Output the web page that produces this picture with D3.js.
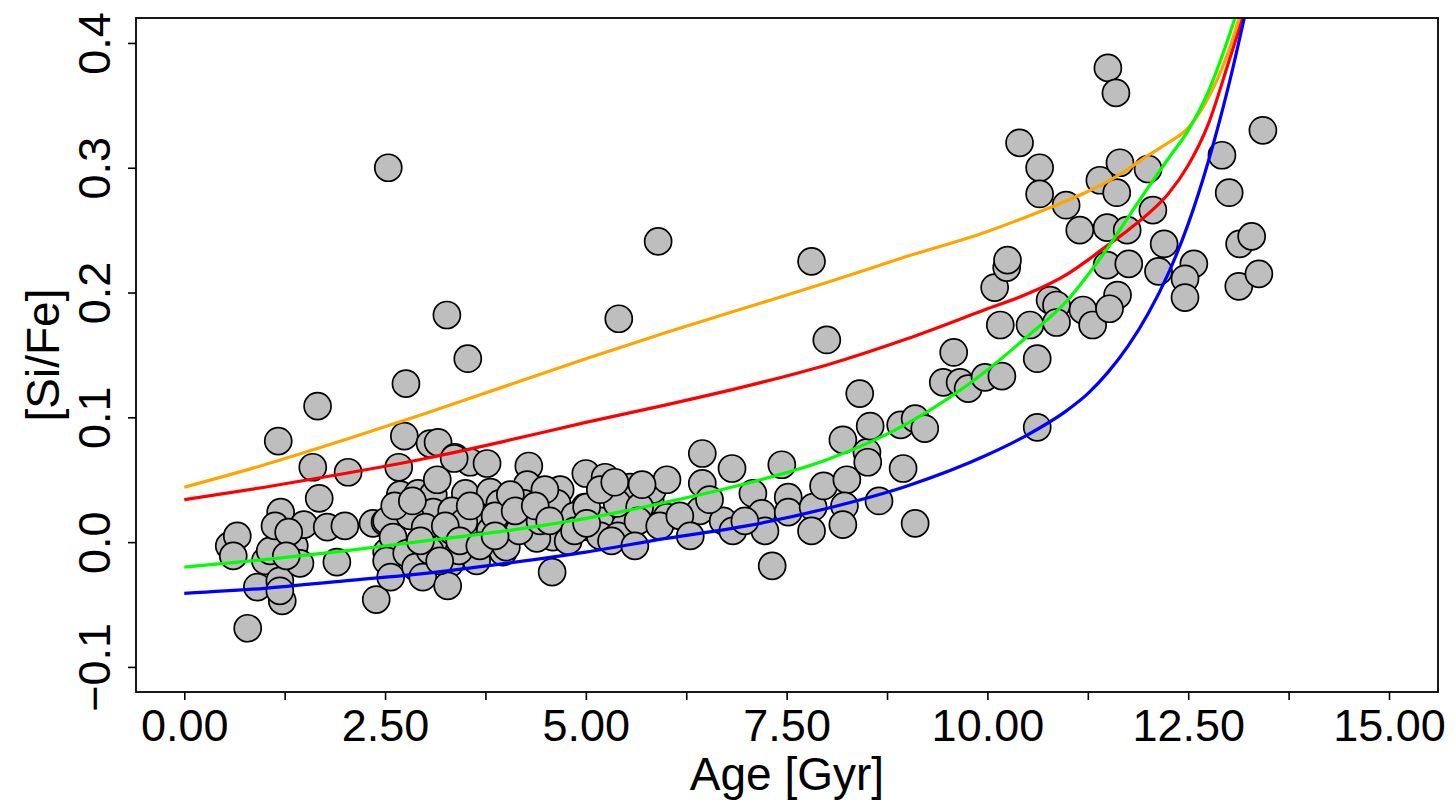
<!DOCTYPE html>
<html>
<head>
<meta charset="utf-8">
<script src="https://cdn.jsdelivr.net/npm/d3@7"></script>
<style>
  html, body { margin: 0; padding: 0; background: #fff; }
  text { font-family: "Liberation Sans", Arial, Helvetica, sans-serif; }
</style>
</head>
<body>
<div id="chart"></div>
<script>
// [age (Gyr), [Si/Fe]] for each star
const stars = [
  [0.56,-0.003],[0.66,0.005],[0.61,-0.011],[0.79,-0.069],[0.91,-0.036],[1.01,-0.015],
  [1.17,0.081],[1.20,0.024],[1.22,0.001],[1.37,-0.003],[1.19,-0.031],[1.22,-0.047],
  [1.19,-0.039],[1.44,-0.017],[1.49,0.014],[1.60,0.060],[1.66,0.109],[1.68,0.035],
  [1.78,0.012],[1.90,-0.016],[2.00,0.013],[2.04,0.056],[2.35,0.015],[2.50,0.016],
  [2.52,-0.008],[2.39,-0.046],[2.54,0.300],[2.74,0.085],[2.76,0.127],[2.67,0.060],
  [2.69,0.038],[2.52,0.017],[2.60,0.004],[2.52,-0.015],[2.77,-0.009],[1.07,-0.007],
  [1.13,0.013],[2.57,-0.028],[2.88,-0.020],[1.30,0.008],[1.27,-0.011],
  [3.06,0.079],[3.16,0.080],[3.37,0.068],[3.56,0.064],[3.77,0.063],[4.29,0.061],
  [5.00,0.055],[2.91,0.039],[3.10,0.038],[3.15,0.050],[3.50,0.039],[3.81,0.040],
  [4.27,0.046],[4.68,0.042],[3.10,0.024],[3.33,0.025],[3.71,0.019],[3.93,0.031],
  [4.27,0.029],[4.64,0.031],[4.99,0.028],[3.16,0.001],[3.33,0.009],[3.56,0.004],
  [3.81,0.009],[4.14,0.015],[4.70,0.012],[4.59,0.004],[5.05,0.012],[3.06,-0.007],
  [3.31,-0.017],[3.64,-0.015],[3.97,-0.008],[4.39,0.003],[2.97,-0.028],[3.28,-0.035],
  [4.58,-0.024],[3.42,-0.007],[3.48,0.016],[3.36,0.067],[3.53,0.147],[3.27,0.182],
  [4.01,-0.004],[4.23,0.031],[4.17,0.009],[2.81,0.021],[3.00,0.012],[3.25,0.013],
  [3.56,0.029],[3.87,0.021],[4.43,0.017],[4.86,0.021],[4.06,0.038],[4.49,0.042],
  [4.78,0.001],[2.62,0.029],[2.84,0.033],[2.94,0.001],[3.18,-0.015],[3.43,0.001],
  [3.68,-0.003],[3.87,0.005],[4.12,0.025],[4.37,0.029],[4.55,0.017],[4.86,0.009],
  [5.18,0.017],[5.49,0.025],[5.80,0.034],[5.49,0.013],[5.18,0.005],
  [5.24,0.052],[5.55,0.044],[5.83,0.042],[6.01,0.050],[5.01,0.028],[5.39,0.031],
  [5.67,0.028],[6.01,0.020],[5.01,0.015],[5.40,0.005],[5.65,0.017],[6.45,0.071],
  [6.82,0.059],[7.44,0.062],[6.45,0.047],[6.42,0.025],[6.71,0.017],[7.08,0.039],
  [7.19,0.023],[7.52,0.036],[7.52,0.024],[7.23,0.009],[6.83,0.009],[7.32,-0.019],
  [5.41,0.179],[5.90,0.241],[5.32,0.001],[5.61,-0.003],[5.92,0.013],[6.17,0.021],
  [6.54,0.034],[6.98,0.017],[6.30,0.005],[5.18,0.042],[5.36,0.048],[5.70,0.046],
  [7.83,0.028],[7.81,0.009],[7.96,0.045],[8.25,0.050],[8.22,0.029],[8.20,0.014],
  [8.65,0.033],[8.20,0.082],[8.50,0.072],[8.51,0.064],[8.54,0.093],[8.41,0.119],
  [8.00,0.162],[7.81,0.225],[8.95,0.059],[9.10,0.015],[8.92,0.094],[9.10,0.099],
  [9.22,0.091],[9.45,0.128],[9.58,0.152],[9.66,0.128],[9.76,0.123],[9.97,0.132],
  [10.18,0.133],
  [10.09,0.204],[10.24,0.220],[10.25,0.226],[10.16,0.174],[10.53,0.174],[10.62,0.147],
  [10.62,0.092],[10.40,0.320],[10.65,0.300],[10.65,0.279],[10.98,0.270],[10.78,0.194],
  [10.86,0.190],[11.19,0.186],[11.15,0.250],[11.31,0.174],[11.40,0.290],[11.50,0.380],
  [11.60,0.360],[11.49,0.252],[11.74,0.250],[11.65,0.304],[11.61,0.280],[12.00,0.299],
  [12.06,0.266],[12.20,0.239],[11.49,0.222],[11.76,0.223],[11.62,0.198],[11.52,0.187],
  [12.13,0.217],[12.57,0.223],[12.46,0.211],[12.46,0.196],[12.92,0.310],[13.01,0.280],
  [13.14,0.239],[13.29,0.245],[13.13,0.205],[13.38,0.215],[13.43,0.330],[10.86,0.176]
];

// chemical evolution model tracks
const modelAge = [0, 1, 2, 3, 4, 5, 6, 7, 8, 9, 10, 10.5, 11, 11.25, 11.5, 11.75, 12, 12.25, 12.5, 12.75, 13, 13.25, 13.5];
const orangeTrack = [0.044, 0.062, 0.082, 0.103, 0.125, 0.147, 0.168, 0.188, 0.208, 0.229, 0.249, 0.261, 0.274, 0.281, 0.289, 0.299, 0.310, 0.320, 0.332, 0.356, 0.393, 0.445, 0.50];
const redTrack = [0.034, 0.044, 0.055, 0.067, 0.081, 0.096, 0.110, 0.125, 0.142, 0.163, 0.187, 0.199, 0.215, 0.226, 0.238, 0.250, 0.263, 0.279, 0.302, 0.335, 0.384, 0.436, 0.50];
const greenTrack = [-0.020, -0.014, -0.007, 0.001, 0.009, 0.019, 0.032, 0.047, 0.066, 0.095, 0.138, 0.165, 0.194, 0.214, 0.236, 0.260, 0.284, 0.307, 0.330, 0.361, 0.404, 0.455, 0.51];
const blueTrack = [-0.041, -0.037, -0.031, -0.025, -0.017, -0.008, 0.003, 0.013, 0.027, 0.045, 0.070, 0.086, 0.106, 0.119, 0.136, 0.157, 0.183, 0.215, 0.255, 0.305, 0.365, 0.435, 0.51];
const trackColors = ["#FFA500", "#FF0000", "#00FF00", "#0000FF"];

const xTicks = [0, 1.25, 2.5, 3.75, 5, 6.25, 7.5, 8.75, 10, 11.25, 12.5, 13.75, 15];
const xLabels = ["0.00", "", "2.50", "", "5.00", "", "7.50", "", "10.00", "", "12.50", "", "15.00"];
const yTicks = [-0.1, 0, 0.1, 0.2, 0.3, 0.4];
const yLabels = ["\u22120.1", "0.0", "0.1", "0.2", "0.3", "0.4"];

const W = 1455, H = 806;
const plot = { left: 136, right: 1438, top: 18, bottom: 692 };

const svg = d3.select("#chart")
  .append("svg")
  .attr("width", W)
  .attr("height", H);

const x = d3.scaleLinear()
  .domain([-0.601, 15.61])
  .range([plot.left, plot.right]);

const y = d3.scaleLinear()
  .domain([-0.1201, 0.420])
  .range([plot.bottom, plot.top]);

svg.append("clipPath")
  .attr("id", "plotClip")
  .append("rect")
  .attr("x", plot.left)
  .attr("y", plot.top)
  .attr("width", plot.right - plot.left)
  .attr("height", plot.bottom - plot.top);

// stars
svg.append("g")
  .selectAll("circle")
  .data(stars)
  .enter()
  .append("circle")
  .attr("cx", d => x(d[0]))
  .attr("cy", d => y(d[1]))
  .attr("r", 13.5)
  .attr("fill", "#BEBEBE")
  .attr("stroke", "#000")
  .attr("stroke-width", 1.7);

// model lines on top
const tracks = [orangeTrack, redTrack, greenTrack, blueTrack];
const line = d3.line()
  .x((d, i) => x(modelAge[i]))
  .y(d => y(d))
  .curve(d3.curveMonotoneX);

svg.append("g")
  .attr("clip-path", "url(#plotClip)")
  .selectAll("path")
  .data(tracks)
  .enter()
  .append("path")
  .attr("d", d => line(d))
  .attr("fill", "none")
  .attr("stroke", (d, i) => trackColors[i])
  .attr("stroke-width", 3.2);

// frame
svg.append("rect")
  .attr("x", plot.left)
  .attr("y", plot.top)
  .attr("width", plot.right - plot.left)
  .attr("height", plot.bottom - plot.top)
  .attr("fill", "none")
  .attr("stroke", "#000")
  .attr("stroke-width", 1.8);

// axes
const xAxis = svg.append("g")
  .attr("transform", `translate(0,${plot.bottom})`)
  .call(d3.axisBottom(x).tickValues(xTicks).tickSize(8).tickFormat((d, i) => xLabels[i]));

const yAxis = svg.append("g")
  .attr("transform", `translate(${plot.left},0)`)
  .call(d3.axisLeft(y).tickValues(yTicks).tickSize(8).tickFormat((d, i) => yLabels[i]));

[xAxis, yAxis].forEach(g => {
  g.select(".domain").remove();
  g.selectAll(".tick line").attr("stroke", "#000").attr("stroke-width", 1.6);
  g.selectAll("text")
    .attr("fill", "#000")
    .style("font-size", "45px")
    .style("font-family", "'Liberation Sans', Arial, sans-serif");
});

xAxis.selectAll("text")
  .attr("y", 49)
  .attr("dy", 0);

yAxis.selectAll("text")
  .attr("transform", "rotate(-90)")
  .attr("text-anchor", "middle")
  .attr("x", 0)
  .attr("y", -26)
  .attr("dy", 0);

// axis titles
svg.append("text")
  .attr("x", (plot.left + plot.right) / 2)
  .attr("y", 790)
  .attr("text-anchor", "middle")
  .style("font-size", "46px")
  .text("Age [Gyr]");

svg.append("text")
  .attr("transform", `translate(59,${(plot.top + plot.bottom) / 2}) rotate(-90)`)
  .attr("text-anchor", "middle")
  .style("font-size", "46px")
  .text("[Si/Fe]");
</script>
</body>
</html>
